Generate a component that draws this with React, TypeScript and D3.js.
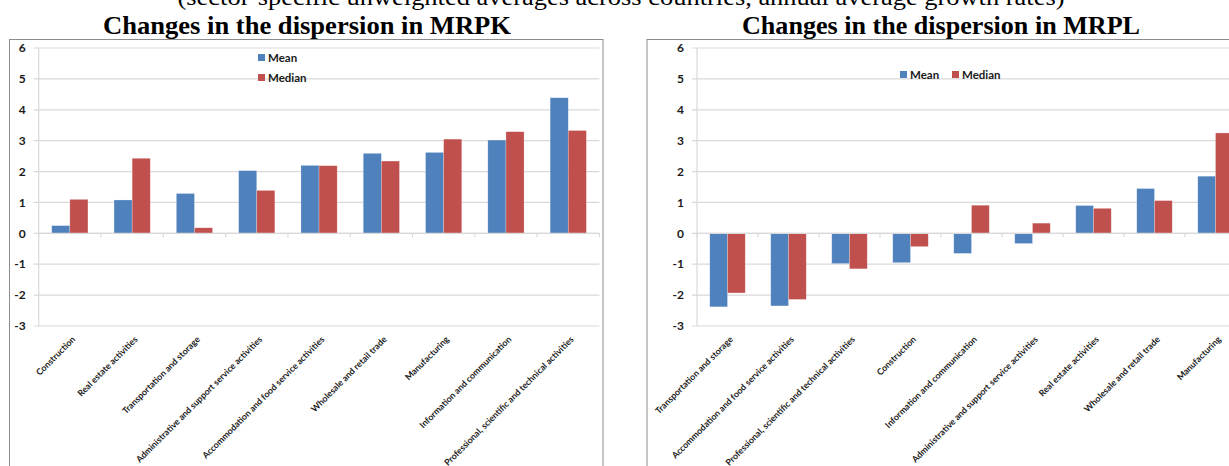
import * as d3 from 'd3';

const SERIES = ['Mean', 'Median'];
const COLORS = ['#4F81BD', '#C0504D'];
const Y_TICKS = [-3, -2, -1, 0, 1, 2, 3, 4, 5, 6];

// MRPK panel
const mrpkCategories = [
  'Construction',
  'Real estate activities',
  'Transportation and storage',
  'Administrative and support service activities',
  'Accommodation and food service activities',
  'Wholesale and retail trade',
  'Manufacturing',
  'Information and communication',
  'Professional, scientific and technical activities',
];
const mrpkMean = [0.25, 1.08, 1.29, 2.03, 2.2, 2.59, 2.62, 3.02, 4.39];
const mrpkMedian = [1.1, 2.43, 0.18, 1.39, 2.19, 2.34, 3.05, 3.29, 3.33];

// MRPL panel
const mrplCategories = [
  'Transportation and storage',
  'Accommodation and food service activities',
  'Professional, scientific and technical activities',
  'Construction',
  'Information and communication',
  'Administrative and support service activities',
  'Real estate activities',
  'Wholesale and retail trade',
  'Manufacturing',
];
const mrplMean = [-2.38, -2.35, -0.98, -0.95, -0.65, -0.33, 0.9, 1.45, 1.85];
const mrplMedian = [-1.93, -2.14, -1.15, -0.43, 0.91, 0.33, 0.81, 1.06, 3.25];

const SANS = 'Lato, "Open Sans", sans-serif';
const SERIF = '"Liberation Serif", "Times New Roman", serif';

type PanelProps = {
  frame: { x0: number; x1: number };
  plot: { x0: number; x1: number };
  categories: string[];
  values: number[][];
  legend: 'vertical' | 'horizontal';
  legendPos: { x: number; y: number };
};

const Panel = ({ frame, plot, categories, values, legend, legendPos }: PanelProps) => {
  const yScale = d3.scaleLinear().domain([-3, 6]).range([326, 48]);
  const xScale = d3.scaleBand<string>().domain(categories).range([plot.x0, plot.x1]).padding(0);
  const inner = d3
    .scaleBand<string>()
    .domain(SERIES)
    .range([0, xScale.bandwidth()])
    .paddingInner(0)
    .paddingOuter(0.72);
  const y0 = yScale(0);
  const step = xScale.step();

  return (
    <g>
      <rect x={frame.x0} y={39.5} width={frame.x1 - frame.x0} height={440} fill="#fff" stroke="#8c8c8c" strokeWidth={1} />

      {Y_TICKS.map((t) => (
        <g key={t}>
          <line x1={plot.x0 - 5} x2={plot.x1} y1={yScale(t)} y2={yScale(t)} stroke="#d9d9d9" strokeWidth={1.2} />
          <text
            x={plot.x0 - 13}
            y={yScale(t)}
            dy="0.35em"
            textAnchor="end"
            fontSize={12}
            fontWeight={700}
            fontFamily={SANS}
            fill="#1a1a1a"
          >
            {t}
          </text>
        </g>
      ))}
      <line x1={plot.x0} x2={plot.x0} y1={yScale(6)} y2={yScale(-3)} stroke="#d9d9d9" strokeWidth={1.2} />

      {categories.map((c, i) =>
        SERIES.map((s, j) => {
          const v = values[j][i];
          const x = (xScale(c) ?? 0) + (inner(s) ?? 0);
          return (
            <rect
              key={c + s}
              x={x}
              y={Math.min(yScale(v), y0)}
              width={inner.bandwidth()}
              height={Math.abs(yScale(v) - y0)}
              fill={COLORS[j]}
              stroke="#ffffff"
              strokeOpacity={0.4}
              strokeWidth={0.6}
            />
          );
        })
      )}

      {/* category axis at zero */}
      <line x1={plot.x0} x2={plot.x1} y1={y0} y2={y0} stroke="#d9d9d9" strokeWidth={1.2} />
      {d3.range(categories.length + 1).map((i) => (
        <line
          key={i}
          x1={plot.x0 + i * step}
          x2={plot.x0 + i * step}
          y1={y0}
          y2={y0 + 4}
          stroke="#d9d9d9"
          strokeWidth={1.2}
        />
      ))}

      {categories.map((c) => {
        const cx = (xScale(c) ?? 0) + xScale.bandwidth() / 2 + 6;
        return (
          <text
            key={c}
            transform={`translate(${cx},${340}) rotate(-45)`}
            textAnchor="end"
            fontSize={8.8}
            fontWeight={700}
            fontFamily={SANS}
            fill="#1a1a1a"
          >
            {c}
          </text>
        );
      })}

      {SERIES.map((s, j) => {
        const lx = legend === 'vertical' ? legendPos.x : legendPos.x + j * 52;
        const ly = legend === 'vertical' ? legendPos.y + j * 20 : legendPos.y;
        return (
          <g key={s}>
            <rect x={lx} y={ly - 4} width={7} height={7} fill={COLORS[j]} />
            <text x={lx + 10} y={ly} dy="0.35em" fontSize={11.5} fontWeight={700} fontFamily={SANS} fill="#1a1a1a">
              {s}
            </text>
          </g>
        );
      })}
    </g>
  );
};

export default function App() {
  return (
    <svg
      width={1229}
      height={466}
      style={{ position: 'absolute', left: 0, top: 0, background: '#fff' }}
    >
      <text
        x={621}
        y={5}
        textAnchor="middle"
        fontSize={23}
        fontFamily={SERIF}
        textLength={887}
        lengthAdjust="spacingAndGlyphs"
        fill="#000"
      >
        (sector-specific unweighted averages across countries, annual average growth rates)
      </text>
      <text
        x={307}
        y={34}
        textAnchor="middle"
        fontSize={25}
        fontWeight={700}
        fontFamily={SERIF}
        textLength={408}
        lengthAdjust="spacingAndGlyphs"
        fill="#000"
      >
        Changes in the dispersion in MRPK
      </text>
      <text
        x={941}
        y={34}
        textAnchor="middle"
        fontSize={25}
        fontWeight={700}
        fontFamily={SERIF}
        textLength={398}
        lengthAdjust="spacingAndGlyphs"
        fill="#000"
      >
        Changes in the dispersion in MRPL
      </text>

      <Panel
        frame={{ x0: 9.5, x1: 603 }}
        plot={{ x0: 38.7, x1: 599.4 }}
        categories={mrpkCategories}
        values={[mrpkMean, mrpkMedian]}
        legend="vertical"
        legendPos={{ x: 258, y: 58 }}
      />
      <Panel
        frame={{ x0: 647, x1: 1262 }}
        plot={{ x0: 697, x1: 1246 }}
        categories={mrplCategories}
        values={[mrplMean, mrplMedian]}
        legend="horizontal"
        legendPos={{ x: 900, y: 75 }}
      />
    </svg>
  );
}
